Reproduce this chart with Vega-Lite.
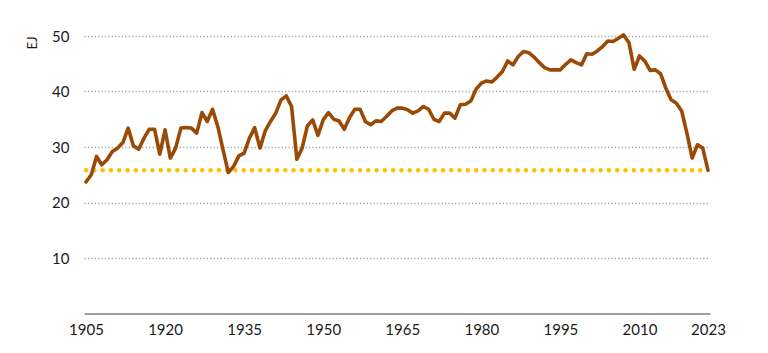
{
  "$schema": "https://vega.github.io/schema/vega-lite/v6.json",
  "width": 626,
  "height": 277.5,
  "autosize": {"type": "none"},
  "padding": {"left": 84, "top": 36, "right": 58, "bottom": 39.5},
  "background": "white",
  "config": {"view": {"stroke": null}, "font": "Lato"},
  "datasets": {
    "coal": [
      {"year": 1905, "ej": 23.7}, {"year": 1906, "ej": 25.0}, {"year": 1907, "ej": 28.3}, {"year": 1908, "ej": 26.8},
      {"year": 1909, "ej": 27.7}, {"year": 1910, "ej": 29.2}, {"year": 1911, "ej": 29.8}, {"year": 1912, "ej": 30.8},
      {"year": 1913, "ej": 33.4}, {"year": 1914, "ej": 30.2}, {"year": 1915, "ej": 29.6}, {"year": 1916, "ej": 31.6},
      {"year": 1917, "ej": 33.2}, {"year": 1918, "ej": 33.2}, {"year": 1919, "ej": 28.7}, {"year": 1920, "ej": 33.1},
      {"year": 1921, "ej": 28.0}, {"year": 1922, "ej": 29.8}, {"year": 1923, "ej": 33.4}, {"year": 1924, "ej": 33.5},
      {"year": 1925, "ej": 33.4}, {"year": 1926, "ej": 32.5}, {"year": 1927, "ej": 36.2}, {"year": 1928, "ej": 34.6},
      {"year": 1929, "ej": 36.8}, {"year": 1930, "ej": 33.7}, {"year": 1931, "ej": 29.5}, {"year": 1932, "ej": 25.4},
      {"year": 1933, "ej": 26.5}, {"year": 1934, "ej": 28.4}, {"year": 1935, "ej": 28.9}, {"year": 1936, "ej": 31.6},
      {"year": 1937, "ej": 33.5}, {"year": 1938, "ej": 29.8}, {"year": 1939, "ej": 32.9}, {"year": 1940, "ej": 34.6},
      {"year": 1941, "ej": 36.1}, {"year": 1942, "ej": 38.5}, {"year": 1943, "ej": 39.2}, {"year": 1944, "ej": 37.3},
      {"year": 1945, "ej": 27.8}, {"year": 1946, "ej": 29.8}, {"year": 1947, "ej": 33.8}, {"year": 1948, "ej": 34.9},
      {"year": 1949, "ej": 32.1}, {"year": 1950, "ej": 34.9}, {"year": 1951, "ej": 36.2}, {"year": 1952, "ej": 35.0},
      {"year": 1953, "ej": 34.7}, {"year": 1954, "ej": 33.2}, {"year": 1955, "ej": 35.3}, {"year": 1956, "ej": 36.8},
      {"year": 1957, "ej": 36.8}, {"year": 1958, "ej": 34.6}, {"year": 1959, "ej": 34.0}, {"year": 1960, "ej": 34.7},
      {"year": 1961, "ej": 34.6}, {"year": 1962, "ej": 35.5}, {"year": 1963, "ej": 36.5}, {"year": 1964, "ej": 37.0},
      {"year": 1965, "ej": 37.0}, {"year": 1966, "ej": 36.7}, {"year": 1967, "ej": 36.1}, {"year": 1968, "ej": 36.5},
      {"year": 1969, "ej": 37.3}, {"year": 1970, "ej": 36.8}, {"year": 1971, "ej": 35.0}, {"year": 1972, "ej": 34.6},
      {"year": 1973, "ej": 36.1}, {"year": 1974, "ej": 36.1}, {"year": 1975, "ej": 35.2}, {"year": 1976, "ej": 37.6},
      {"year": 1977, "ej": 37.7}, {"year": 1978, "ej": 38.3}, {"year": 1979, "ej": 40.4}, {"year": 1980, "ej": 41.5},
      {"year": 1981, "ej": 41.9}, {"year": 1982, "ej": 41.7}, {"year": 1983, "ej": 42.6}, {"year": 1984, "ej": 43.6},
      {"year": 1985, "ej": 45.5}, {"year": 1986, "ej": 44.8}, {"year": 1987, "ej": 46.3}, {"year": 1988, "ej": 47.2},
      {"year": 1989, "ej": 47.0}, {"year": 1990, "ej": 46.2}, {"year": 1991, "ej": 45.2}, {"year": 1992, "ej": 44.3},
      {"year": 1993, "ej": 43.9}, {"year": 1994, "ej": 43.9}, {"year": 1995, "ej": 43.9}, {"year": 1996, "ej": 44.9},
      {"year": 1997, "ej": 45.7}, {"year": 1998, "ej": 45.2}, {"year": 1999, "ej": 44.8}, {"year": 2000, "ej": 46.8},
      {"year": 2001, "ej": 46.7}, {"year": 2002, "ej": 47.3}, {"year": 2003, "ej": 48.1}, {"year": 2004, "ej": 49.1},
      {"year": 2005, "ej": 49.0}, {"year": 2006, "ej": 49.6}, {"year": 2007, "ej": 50.2}, {"year": 2008, "ej": 48.8},
      {"year": 2009, "ej": 44.0}, {"year": 2010, "ej": 46.4}, {"year": 2011, "ej": 45.5}, {"year": 2012, "ej": 43.8},
      {"year": 2013, "ej": 43.9}, {"year": 2014, "ej": 43.2}, {"year": 2015, "ej": 40.6}, {"year": 2016, "ej": 38.5},
      {"year": 2017, "ej": 37.9}, {"year": 2018, "ej": 36.5}, {"year": 2019, "ej": 32.5}, {"year": 2020, "ej": 28.0},
      {"year": 2021, "ej": 30.4}, {"year": 2022, "ej": 29.8}, {"year": 2023, "ej": 25.8}
    ],
    "ref": [{"start": 1905, "end": 2023, "level": 25.8}]
  },
  "layer": [
    {
      "data": {"name": "ref"},
      "mark": {"type": "rule", "color": "#FFC000", "strokeWidth": 4.5, "strokeDash": [0.1, 8.2], "strokeCap": "round"},
      "encoding": {
        "x": {"field": "start", "type": "quantitative", "scale": {"domain": [1904.62, 2023.38], "nice": false, "zero": false}},
        "x2": {"field": "end"},
        "y": {"field": "level", "type": "quantitative", "scale": {"domain": [0, 50]}}
      }
    },
    {
      "data": {"name": "coal"},
      "mark": {"type": "line", "color": "#9B4A06", "strokeWidth": 3.6, "strokeJoin": "round", "strokeCap": "round"},
      "encoding": {
        "x": {
          "field": "year", "type": "quantitative",
          "scale": {"domain": [1904.62, 2023.38], "nice": false, "zero": false},
          "axis": {
            "title": null, "values": [1905, 1920, 1935, 1950, 1965, 1980, 1995, 2010, 2023],
            "format": "d", "grid": false, "ticks": false,
            "domainColor": "#808080", "domainWidth": 1.4,
            "labelFontSize": 15, "labelColor": "#1A1A1A", "labelPadding": 9,
            "labelFont": "Lato", "labelFlush": false
          }
        },
        "y": {
          "field": "ej", "type": "quantitative",
          "scale": {"domain": [0, 50], "nice": false},
          "axis": {
            "title": "EJ", "titleFontSize": 13, "titleFontWeight": "normal", "titleColor": "#1A1A1A",
            "titleAnchor": "end", "titleAngle": -90, "titlePadding": 12, "titleFont": "Lato",
            "values": [10, 20, 30, 40, 50], "domain": false, "ticks": false,
            "labelFontSize": 15, "labelColor": "#1A1A1A", "labelPadding": 15, "labelFont": "Lato",
            "grid": true, "gridColor": "#A0A0A0", "gridDash": [1.2, 2.2], "gridWidth": 1.3
          }
        }
      }
    }
  ]
}
